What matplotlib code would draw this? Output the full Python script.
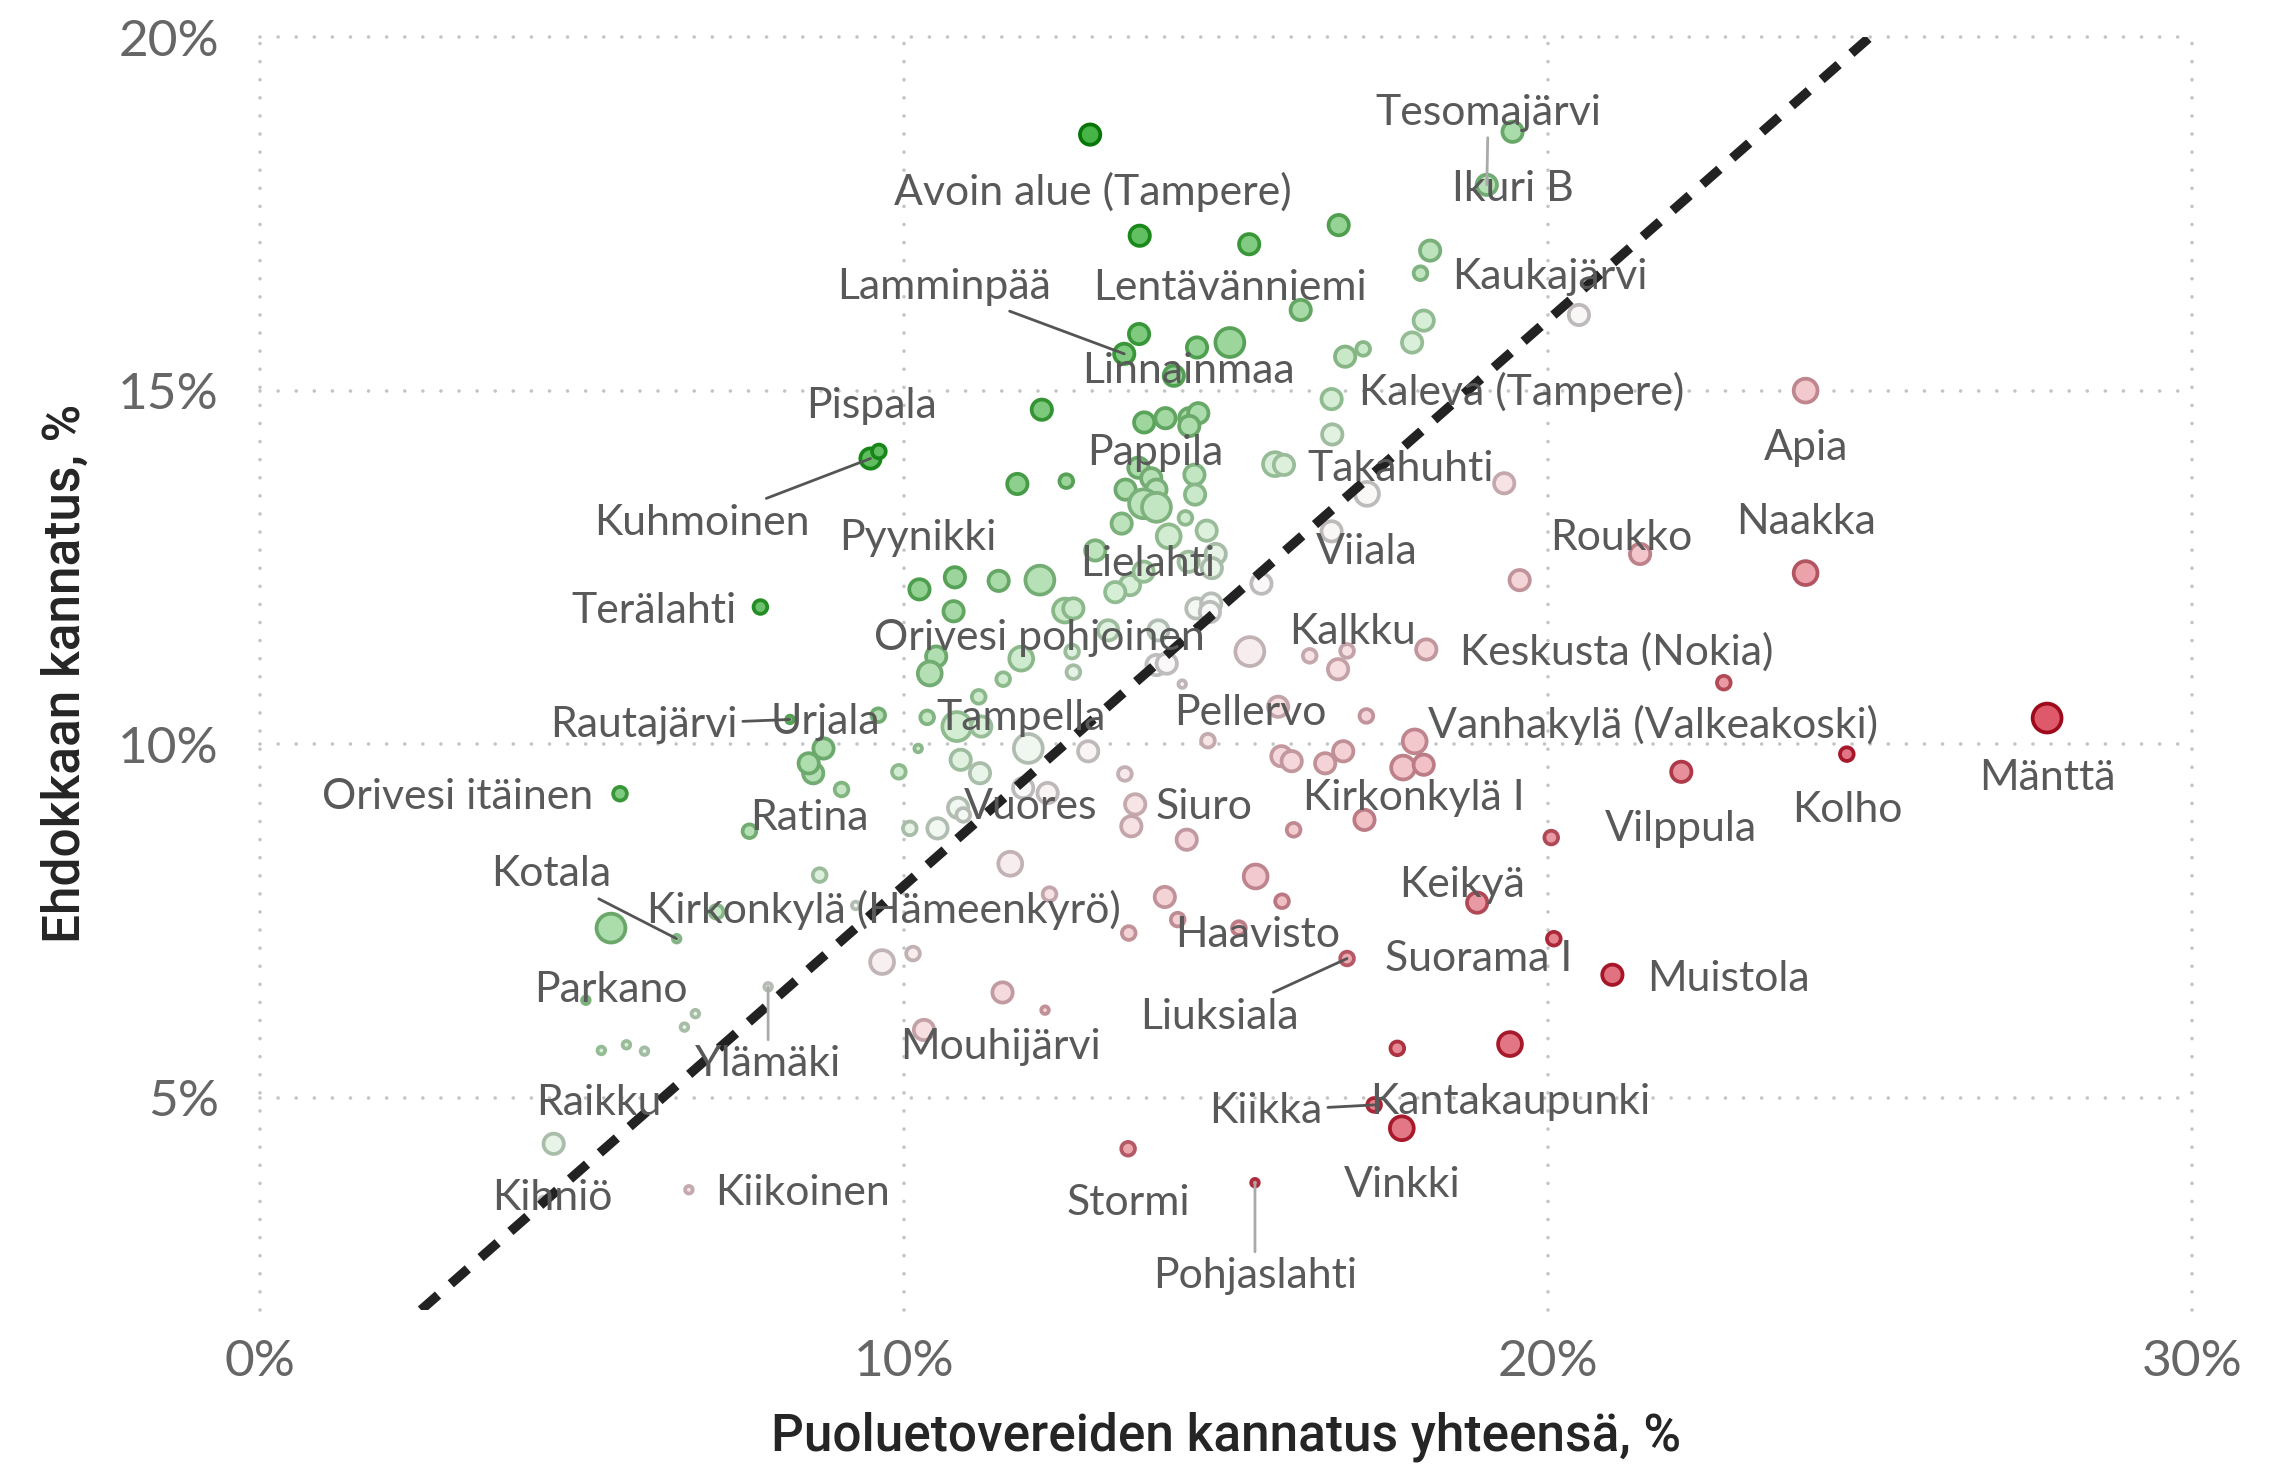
import numpy as np
import matplotlib
matplotlib.use("Agg")
import matplotlib.pyplot as plt
from matplotlib.colors import to_rgb

# ---------------- data ----------------
SLOPE = 0.8  # reference line: candidate share = 0.8 * party share

x_puolue = [
    12.89, 19.45, 19.05, 13.66, 15.36, 16.75, 18.17, 18.02, 16.16, 18.07,
    17.89, 20.48, 13.65, 13.42, 14.55, 15.06, 16.85, 17.13, 14.19, 12.14,
    16.64, 16.65, 13.73, 14.06, 14.43, 14.57, 14.43, 9.48, 9.61, 11.76,
    12.52, 13.64, 13.84, 13.44, 13.92, 13.72, 13.92, 14.51, 14.52, 15.76,
    15.90, 17.19, 13.38, 14.37, 14.11, 14.70, 16.64, 12.97, 14.84, 14.78,
    14.42, 10.79, 11.47, 12.11, 13.51, 13.72, 13.28, 15.55, 10.24, 10.77,
    12.50, 12.63, 13.17, 13.95, 14.54, 14.77, 14.75, 15.37, 10.50, 10.40,
    11.82, 12.61, 12.63, 11.54, 13.92, 14.08, 14.32, 11.16, 10.36, 9.60,
    10.82, 11.20, 11.93, 12.86, 10.22, 10.88, 11.18, 9.92, 9.03, 8.75,
    8.59, 8.52, 11.85, 12.23, 13.43, 13.59, 14.72, 15.81, 15.86, 16.02,
    10.84, 10.92, 10.09, 10.52, 7.77, 5.59, 8.23, 7.60, 5.45, 6.47,
    7.09, 5.06, 6.76, 6.59, 5.30, 5.69, 5.97, 7.89, 8.69, 9.25,
    4.56, 4.40, 6.66, 11.65, 12.26, 9.66, 10.14, 11.53, 12.19, 10.31,
    19.56, 19.32, 16.30, 16.88, 16.74, 18.11, 17.18, 16.54, 16.82, 17.93,
    17.75, 18.07, 17.15, 16.05, 20.05, 14.39, 13.53, 15.46, 14.05, 15.87,
    14.25, 15.20, 13.49, 18.90, 20.09, 16.88, 24.00, 21.43, 24.00, 22.73,
    27.75, 24.64, 22.07, 21.00, 19.41, 17.66, 17.73, 17.30, 13.48, 15.45,
]
y_ehdokas = [
    18.62, 18.66, 17.91, 17.19, 17.07, 17.34, 16.98, 16.66, 16.14, 15.99,
    15.68, 16.07, 15.80, 15.52, 15.61, 15.68, 15.48, 15.59, 15.21, 14.73,
    14.88, 14.38, 14.55, 14.61, 14.61, 14.68, 14.50, 14.04, 14.14, 13.68,
    13.72, 13.91, 13.76, 13.60, 13.60, 13.40, 13.35, 13.81, 13.53, 13.96,
    13.95, 13.54, 13.12, 13.20, 12.94, 13.02, 13.01, 12.74, 12.69, 12.49,
    12.58, 12.36, 12.31, 12.32, 12.25, 12.44, 12.15, 12.27, 12.19, 11.88,
    11.89, 11.92, 11.61, 11.61, 11.92, 11.99, 11.87, 11.31, 11.24, 11.00,
    11.21, 11.31, 11.02, 10.92, 11.12, 11.14, 10.85, 10.67, 10.38, 10.41,
    10.25, 10.25, 9.94, 9.90, 9.94, 9.78, 9.59, 9.61, 9.36, 9.94,
    9.59, 9.73, 9.38, 9.31, 9.58, 9.15, 10.05, 10.53, 9.83, 9.76,
    9.10, 9.00, 8.81, 8.81, 11.94, 9.30, 10.35, 8.77, 7.40, 7.25,
    7.63, 6.38, 6.19, 6.00, 5.67, 5.75, 5.66, 6.57, 8.15, 7.72,
    4.35, 3.55, 3.70, 8.31, 7.88, 6.92, 7.04, 6.49, 6.24, 5.96,
    12.32, 13.69, 11.25, 11.32, 11.06, 11.34, 10.40, 9.73, 9.90, 10.04,
    9.67, 9.71, 8.93, 8.79, 8.68, 8.65, 8.84, 8.13, 7.84, 7.78,
    7.52, 7.40, 7.33, 7.76, 7.25, 6.97, 15.00, 12.69, 12.42, 10.87,
    10.37, 9.86, 9.61, 6.74, 5.76, 5.70, 4.57, 4.90, 4.28, 3.80,
]
aanet = [
    3800, 3800, 3800, 3800, 3800, 3800, 3800, 2000, 3800, 3800,
    3800, 3800, 3800, 3800, 3800, 7000, 3800, 2000, 3800, 3800,
    3800, 3800, 3800, 3800, 3800, 3800, 3800, 3800, 2000, 3800,
    2000, 3800, 3800, 3800, 3800, 7000, 7000, 3800, 3800, 5000,
    3800, 5000, 3800, 2000, 5000, 3800, 3800, 3800, 3800, 3800,
    3800, 3800, 3800, 7000, 3800, 3800, 3800, 3800, 3800, 3800,
    5000, 3800, 3800, 3800, 3800, 3800, 3800, 7000, 3800, 5000,
    5000, 2000, 2000, 2000, 3800, 3800, 850, 2000, 2000, 2000,
    7000, 3800, 7000, 3800, 850, 3800, 3800, 2000, 2000, 3800,
    3800, 3800, 3800, 3800, 2000, 3800, 2000, 3800, 3800, 3800,
    3800, 2000, 2000, 3800, 2000, 2000, 850, 2000, 7000, 850,
    2000, 850, 850, 850, 850, 850, 850, 850, 2000, 850,
    3800, 850, 850, 5000, 2000, 5000, 2000, 3800, 850, 3800,
    3800, 3800, 2000, 2000, 3800, 3800, 2000, 3800, 3800, 5000,
    5000, 3800, 3800, 2000, 2000, 3800, 3800, 5000, 3800, 2000,
    2000, 2000, 2000, 3800, 2000, 2000, 5000, 3800, 5000, 2000,
    7000, 2000, 3800, 3800, 5000, 2000, 5000, 2000, 2000, 850,
]
alue = [
    "Avoin alue (Tampere)", "Ikuri B", "Tesomajärvi", "", "", "", "", "", "Lentävänniemi", "",
    "", "Kaukajärvi", "", "Lamminpää", "", "", "", "", "Linnainmaa", "",
    "Kaleva (Tampere)", "", "", "", "", "", "", "Kuhmoinen", "Pispala", "",
    "", "", "Pappila", "", "", "", "", "", "", "",
    "", "Takahuhti", "", "", "", "", "Viiala", "", "", "Lielahti",
    "", "", "", "", "", "", "", "", "Pyynikki", "",
    "", "", "", "Orivesi pohjoinen", "", "", "", "", "", "",
    "", "", "", "", "", "", "", "", "", "Urjala",
    "Tampella", "", "", "", "", "", "", "", "", "",
    "", "", "Vuores", "", "", "Siuro", "", "Pellervo", "", "",
    "", "", "", "", "Terälahti", "Orivesi itäinen", "Rautajärvi", "Ratina", "", "Kotala",
    "", "Parkano", "", "", "", "", "", "Ylämäki", "", "Kirkonkylä (Hämeenkyrö)",
    "Raikku", "Kihniö", "Kiikoinen", "", "", "", "", "", "", "Mouhijärvi",
    "", "", "", "Kalkku", "", "Keskusta (Nokia)", "", "", "", "Vanhakylä (Valkeakoski)",
    "", "", "Kirkonkylä I", "", "", "", "", "", "", "",
    "", "Haavisto", "", "Keikyä", "Suorama I", "Liuksiala", "Apia", "Roukko", "Naakka", "",
    "Mänttä", "Kolho", "Vilppula", "Muistola", "Kantakaupunki", "", "Vinkki", "Kiikka", "Stormi", "Pohjaslahti",
]

x_ticks = [0, 10, 20, 30]
y_ticks = [5, 10, 15, 20]
x_tick_labels = ["0%", "10%", "20%", "30%"]
y_tick_labels = ["5%", "10%", "15%", "20%"]
x_title = "Puoluetovereiden kannatus yhteensä, %"
y_title = "Ehdokkaan kannatus, %"

# ---------------- layout / style ----------------
LABEL_OFFSETS = {  # label centre offset from its point, in points
    "Avoin alue (Tampere)": (1, -20.5), "Ikuri B": (0, -20.5), "Tesomajärvi": (0.5, 25.8),
    "Lentävänniemi": (-25.3, 7.9), "Kaukajärvi": (-10.5, 13.7), "Lamminpää": (-65, 24.2),
    "Linnainmaa": (5.3, 1.6), "Kaleva (Tampere)": (68.5, 2.6), "Pispala": (-2.6, 16.3),
    "Apia": (0, -20.5), "Pappila": (1.6, 9), "Takahuhti": (12.1, 9),
    "Kuhmoinen": (-60.6, -23.2), "Pyynikki": (-0.5, 18.4), "Roukko": (-6.8, 5.8),
    "Naakka": (0, 18.4), "Viiala": (12.6, -7.4), "Lielahti": (-23, 1.6),
    "Terälahti": (-38.4, -1.6), "Orivesi pohjoinen": (-42.7, -2.6), "Kalkku": (2.1, 6.8),
    "Keskusta (Nokia)": (68.5, -1), "Pellervo": (-10, -2.1), "Vanhakylä (Valkeakoski)": (85.8, 5.8),
    "Rautajärvi": (-52.7, -2.1), "Urjala": (-19, -2.6), "Tampella": (23.2, 3.2),
    "Mänttä": (0, -21.6), "Orivesi itäinen": (-58.5, -1), "Kolho": (0, -20),
    "Kirkonkylä I": (17.9, 7.9), "Vuores": (2.6, -6.8), "Siuro": (24.8, -1),
    "Ratina": (21.6, 4.7), "Vilppula": (0, -20.5), "Kotala": (-45.3, 23.2),
    "Keikyä": (-5.3, 6.3), "Kirkonkylä (Hämeenkyrö)": (10, -1.6), "Haavisto": (6.8, -2.6),
    "Suorama I": (-26.9, -7.4), "Muistola": (41.6, -1.6), "Parkano": (9, 3.7),
    "Liuksiala": (-45.8, -21), "Ylämäki": (0, -27.9), "Mouhijärvi": (27.4, -6.3),
    "Raikku": (16.3, 14.7), "Kiikka": (-39, -2.1), "Kantakaupunki": (0, -21),
    "Vinkki": (0, -20.5), "Stormi": (0, -19.5), "Pohjaslahti": (0, -33.7),
    "Kihniö": (3.2, 1), "Kiikoinen": (41, -1),
}
LEADERS = {
    "Lamminpää": "#555555", "Kuhmoinen": "#555555", "Rautajärvi": "#555555",
    "Kotala": "#555555", "Liuksiala": "#555555", "Kiikka": "#555555",
    "Tesomajärvi": "#aaaaaa", "Ylämäki": "#aaaaaa", "Pohjaslahti": "#aaaaaa",
}

# colour by residual from the reference line
R_STOPS = [-11.8, -9.5, -6.5, -4.0, -1.5, 0.0, 1.5, 3.0, 4.5, 6.0, 8.3]
FILL_HEX = ["#de5a6a", "#e27a87", "#eca6ae", "#f3cdd1", "#f7e6e8", "#fafafa",
            "#d6eed6", "#acdcac", "#88cd88", "#66c066", "#46b446"]
EDGE_HEX = ["#9e0a1c", "#a81a2c", "#b45a66", "#c08a92", "#c4acb0", "#bdbdbd",
            "#92bc92", "#6aa86a", "#3f9a3f", "#1e8a1e", "#077507"]


def interp_colors(r, stops, hexes):
    rgb = np.array([to_rgb(h) for h in hexes])
    return np.column_stack([np.interp(r, stops, rgb[:, k]) for k in range(3)])


DPI = 200
fig = plt.figure(figsize=(2294 / DPI, 1465 / DPI), dpi=DPI)
fig.patch.set_facecolor("white")
ax = fig.add_axes([260 / 2294, 1 - 1310 / 1465, (2192 - 260) / 2294, (1310 - 37) / 1465])

x = np.array(x_puolue)
y = np.array(y_ehdokas)
v = np.array(aanet, dtype=float)
res = y - SLOPE * x
fills = interp_colors(res, R_STOPS, FILL_HEX)
edges = interp_colors(res, R_STOPS, EDGE_HEX)

EDGE_LW = 1.35
d_pt = 0.39 * np.sqrt(v) * 72 / DPI
sizes = np.clip(d_pt - EDGE_LW, 0.5, None) ** 2

ax.scatter(x, y, s=sizes, c=fills, edgecolors=edges, linewidths=EDGE_LW, zorder=2)

ax.axline((0, 0), slope=SLOPE, color="#222222", lw=3.4, linestyle=(0, (2.4, 1.8)),
          dash_capstyle="butt", zorder=3)

ax.set_xlim(0, 30)
ax.set_ylim(2, 20)
ax.set_xticks(x_ticks)
ax.set_yticks(y_ticks)
ax.set_xticklabels(x_tick_labels)
ax.set_yticklabels(y_tick_labels)
ax.tick_params(length=0, labelsize=18.5, labelcolor="#666666")
ax.tick_params(axis="y", pad=14.8)
ax.tick_params(axis="x", pad=10.5)
for lab in ax.get_xticklabels() + ax.get_yticklabels():
    lab.set_fontfamily("Lato")
    lab.set_fontweight("normal")

ax.grid(True, linestyle=(0, (0.01, 5.0)), linewidth=1.3, color="#c4c4c4",
        dash_capstyle="round")
for gl in ax.get_xgridlines() + ax.get_ygridlines():
    gl.set_clip_on(False)
    gl.set_dash_capstyle("round")
ax.set_axisbelow(True)
for sp in ax.spines.values():
    sp.set_visible(False)

ax.set_xlabel(x_title, fontsize=18.5, color="#252525", fontfamily="Roboto", fontweight="medium",
              va="center")
ax.set_ylabel(y_title, fontsize=18.5, color="#252525", fontfamily="Roboto", fontweight="medium",
              va="center")
ax.xaxis.set_label_coords(0.5, -0.0998)
ax.yaxis.set_label_coords(-0.1004, 0.5)

for xi, yi, name in zip(x, y, alue):
    if not name:
        continue
    dx, dy = LABEL_OFFSETS[name]
    kw = {}
    if name in LEADERS:
        kw["arrowprops"] = dict(arrowstyle="-", color=LEADERS[name], lw=1.0,
                                shrinkA=0, shrinkB=0)
    ax.annotate(name, xy=(xi, yi), xytext=(dx, dy), textcoords="offset points",
                ha="center", va="center", fontsize=15.4, color="#595959",
                fontfamily="Lato", zorder=5, annotation_clip=False, **kw)

fig.savefig("out.png", dpi=DPI, facecolor="white")
